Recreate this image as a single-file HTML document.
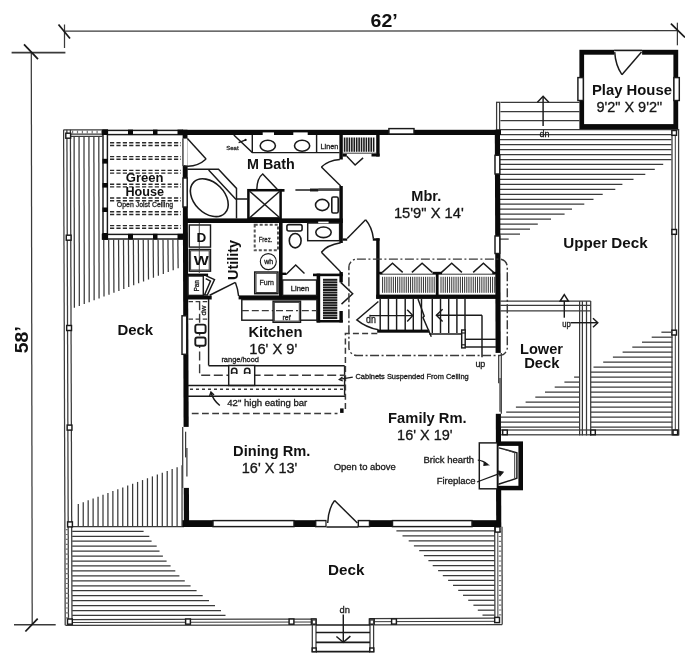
<!DOCTYPE html>
<html><head><meta charset="utf-8"><title>Floor Plan</title>
<style>
html,body{margin:0;padding:0;background:#fff;}
body{width:685px;height:664px;overflow:hidden;}
svg{display:block;will-change:transform;filter:grayscale(1);font-family:"Liberation Sans",Arial,Helvetica,sans-serif;}
</style></head><body>
<svg width="685" height="664" viewBox="0 0 685 664">
<rect x="0" y="0" width="685" height="664" fill="#ffffff"/>
<line x1="64.50" y1="31.20" x2="677.50" y2="30.70" stroke="#3a3a3a" stroke-width="1.25" />
<line x1="64.50" y1="24.50" x2="64.50" y2="48.00" stroke="#3a3a3a" stroke-width="1.25" />
<line x1="58.50" y1="24.50" x2="70.00" y2="38.50" stroke="#1a1a1a" stroke-width="1.74" />
<line x1="677.40" y1="22.70" x2="677.40" y2="45.30" stroke="#3a3a3a" stroke-width="1.25" />
<line x1="670.90" y1="23.70" x2="685.00" y2="37.40" stroke="#1a1a1a" stroke-width="1.74" />
<line x1="31.30" y1="52.60" x2="32.20" y2="624.80" stroke="#3a3a3a" stroke-width="1.25" />
<line x1="11.60" y1="52.60" x2="65.40" y2="52.60" stroke="#3a3a3a" stroke-width="1.75" />
<line x1="24.00" y1="44.40" x2="38.00" y2="59.20" stroke="#1a1a1a" stroke-width="1.74" />
<line x1="14.00" y1="624.80" x2="55.70" y2="624.80" stroke="#3a3a3a" stroke-width="1.50" />
<line x1="25.40" y1="631.50" x2="37.70" y2="618.70" stroke="#1a1a1a" stroke-width="1.74" />
<text x="370.60" y="27.40" font-size="18.7" font-weight="bold" textLength="27.2" lengthAdjust="spacingAndGlyphs" fill="#111" >62’</text>
<text x="28.30" y="353.20" font-size="19" font-weight="bold" textLength="27.0" lengthAdjust="spacingAndGlyphs" transform="rotate(-90 28.3 353.2)" fill="#111" >58’</text>
<line x1="63.60" y1="129.80" x2="65.21" y2="625.20" stroke="#3a3a3a" stroke-width="1.25" />
<line x1="66.90" y1="129.80" x2="68.51" y2="625.20" stroke="#3a3a3a" stroke-width="1.25" />
<line x1="70.40" y1="129.80" x2="72.01" y2="625.20" stroke="#3a3a3a" stroke-width="1.25" />
<line x1="63.60" y1="129.80" x2="102.50" y2="129.80" stroke="#3a3a3a" stroke-width="1.25" />
<line x1="70.40" y1="134.00" x2="102.50" y2="134.00" stroke="#3a3a3a" stroke-width="1.25" />
<line x1="70.40" y1="136.30" x2="102.50" y2="136.30" stroke="#3a3a3a" stroke-width="1.25" />
<line x1="72.00" y1="132.00" x2="102.50" y2="132.00" stroke="#777" stroke-width="3.25" stroke-dasharray="1.2 3.7"/>
<line x1="74.10" y1="136.30" x2="74.40" y2="307.80" stroke="#3a3a3a" stroke-width="1.25" />
<line x1="79.04" y1="136.30" x2="79.34" y2="305.92" stroke="#3a3a3a" stroke-width="1.25" />
<line x1="83.98" y1="136.30" x2="84.28" y2="304.04" stroke="#3a3a3a" stroke-width="1.25" />
<line x1="88.92" y1="136.30" x2="89.22" y2="302.16" stroke="#3a3a3a" stroke-width="1.25" />
<line x1="93.86" y1="136.30" x2="94.16" y2="300.28" stroke="#3a3a3a" stroke-width="1.25" />
<line x1="98.80" y1="136.30" x2="99.10" y2="298.40" stroke="#3a3a3a" stroke-width="1.25" />
<line x1="103.74" y1="239.70" x2="104.04" y2="296.52" stroke="#3a3a3a" stroke-width="1.25" />
<line x1="108.68" y1="239.70" x2="108.98" y2="294.64" stroke="#3a3a3a" stroke-width="1.25" />
<line x1="113.62" y1="239.70" x2="113.92" y2="292.76" stroke="#3a3a3a" stroke-width="1.25" />
<line x1="118.56" y1="239.70" x2="118.86" y2="290.88" stroke="#3a3a3a" stroke-width="1.25" />
<line x1="123.50" y1="239.70" x2="123.80" y2="289.00" stroke="#3a3a3a" stroke-width="1.25" />
<line x1="128.44" y1="239.70" x2="128.74" y2="287.12" stroke="#3a3a3a" stroke-width="1.25" />
<line x1="133.38" y1="239.70" x2="133.68" y2="285.24" stroke="#3a3a3a" stroke-width="1.25" />
<line x1="138.32" y1="239.70" x2="138.62" y2="283.36" stroke="#3a3a3a" stroke-width="1.25" />
<line x1="143.26" y1="239.70" x2="143.56" y2="281.48" stroke="#3a3a3a" stroke-width="1.25" />
<line x1="148.20" y1="239.70" x2="148.50" y2="279.60" stroke="#3a3a3a" stroke-width="1.25" />
<line x1="153.14" y1="239.70" x2="153.44" y2="277.72" stroke="#3a3a3a" stroke-width="1.25" />
<line x1="158.08" y1="239.70" x2="158.38" y2="275.84" stroke="#3a3a3a" stroke-width="1.25" />
<line x1="163.02" y1="239.70" x2="163.32" y2="273.96" stroke="#3a3a3a" stroke-width="1.25" />
<line x1="167.96" y1="239.70" x2="168.26" y2="272.08" stroke="#3a3a3a" stroke-width="1.25" />
<line x1="172.90" y1="239.70" x2="173.20" y2="270.20" stroke="#3a3a3a" stroke-width="1.25" />
<line x1="177.84" y1="239.70" x2="178.14" y2="268.32" stroke="#3a3a3a" stroke-width="1.25" />
<line x1="78.30" y1="504.00" x2="78.30" y2="526.60" stroke="#3a3a3a" stroke-width="1.25" />
<line x1="83.24" y1="502.16" x2="83.24" y2="526.60" stroke="#3a3a3a" stroke-width="1.25" />
<line x1="88.18" y1="500.32" x2="88.18" y2="526.60" stroke="#3a3a3a" stroke-width="1.25" />
<line x1="93.12" y1="498.48" x2="93.12" y2="526.60" stroke="#3a3a3a" stroke-width="1.25" />
<line x1="98.06" y1="496.64" x2="98.06" y2="526.60" stroke="#3a3a3a" stroke-width="1.25" />
<line x1="103.00" y1="494.80" x2="103.00" y2="526.60" stroke="#3a3a3a" stroke-width="1.25" />
<line x1="107.94" y1="492.96" x2="107.94" y2="526.60" stroke="#3a3a3a" stroke-width="1.25" />
<line x1="112.88" y1="491.12" x2="112.88" y2="526.60" stroke="#3a3a3a" stroke-width="1.25" />
<line x1="117.82" y1="489.28" x2="117.82" y2="526.60" stroke="#3a3a3a" stroke-width="1.25" />
<line x1="122.76" y1="487.44" x2="122.76" y2="526.60" stroke="#3a3a3a" stroke-width="1.25" />
<line x1="127.70" y1="485.60" x2="127.70" y2="526.60" stroke="#3a3a3a" stroke-width="1.25" />
<line x1="132.64" y1="483.76" x2="132.64" y2="526.60" stroke="#3a3a3a" stroke-width="1.25" />
<line x1="137.58" y1="481.92" x2="137.58" y2="526.60" stroke="#3a3a3a" stroke-width="1.25" />
<line x1="142.52" y1="480.08" x2="142.52" y2="526.60" stroke="#3a3a3a" stroke-width="1.25" />
<line x1="147.46" y1="478.24" x2="147.46" y2="526.60" stroke="#3a3a3a" stroke-width="1.25" />
<line x1="152.40" y1="476.40" x2="152.40" y2="526.60" stroke="#3a3a3a" stroke-width="1.25" />
<line x1="157.34" y1="474.56" x2="157.34" y2="526.60" stroke="#3a3a3a" stroke-width="1.25" />
<line x1="162.28" y1="472.72" x2="162.28" y2="526.60" stroke="#3a3a3a" stroke-width="1.25" />
<line x1="167.22" y1="470.88" x2="167.22" y2="526.60" stroke="#3a3a3a" stroke-width="1.25" />
<line x1="172.16" y1="469.04" x2="172.16" y2="526.60" stroke="#3a3a3a" stroke-width="1.25" />
<line x1="177.10" y1="467.20" x2="177.10" y2="526.60" stroke="#3a3a3a" stroke-width="1.25" />
<line x1="182.04" y1="465.36" x2="182.04" y2="526.60" stroke="#3a3a3a" stroke-width="1.25" />
<line x1="71.50" y1="526.70" x2="184.00" y2="526.70" stroke="#3a3a3a" stroke-width="1.25" />
<rect x="65.80" y="133.20" width="4.80" height="5.00" fill="#fff" stroke="#1a1a1a" stroke-width="1.45" />
<rect x="66.27" y="235.20" width="4.80" height="5.00" fill="#fff" stroke="#1a1a1a" stroke-width="1.45" />
<rect x="66.69" y="325.50" width="4.80" height="5.00" fill="#fff" stroke="#1a1a1a" stroke-width="1.45" />
<rect x="67.15" y="425.10" width="4.80" height="5.00" fill="#fff" stroke="#1a1a1a" stroke-width="1.45" />
<rect x="67.60" y="521.90" width="4.80" height="5.00" fill="#fff" stroke="#1a1a1a" stroke-width="1.45" />
<text x="117.40" y="335.00" font-size="14.3" font-weight="bold" textLength="35.7" lengthAdjust="spacingAndGlyphs" fill="#111" >Deck</text>
<line x1="65.40" y1="625.40" x2="316.00" y2="624.90" stroke="#3a3a3a" stroke-width="1.25" />
<line x1="71.80" y1="619.60" x2="316.00" y2="619.10" stroke="#3a3a3a" stroke-width="1.25" />
<line x1="71.80" y1="622.50" x2="316.00" y2="622.00" stroke="#3a3a3a" stroke-width="1.00" />
<line x1="67.10" y1="529.00" x2="67.10" y2="619.00" stroke="#777" stroke-width="3.00" stroke-dasharray="1.2 3.7"/>
<line x1="72.20" y1="531.30" x2="143.60" y2="531.30" stroke="#3a3a3a" stroke-width="1.25" />
<line x1="72.20" y1="536.25" x2="149.30" y2="536.25" stroke="#3a3a3a" stroke-width="1.25" />
<line x1="72.20" y1="541.20" x2="151.60" y2="541.20" stroke="#3a3a3a" stroke-width="1.25" />
<line x1="72.20" y1="546.15" x2="156.70" y2="546.15" stroke="#3a3a3a" stroke-width="1.25" />
<line x1="72.20" y1="551.10" x2="159.50" y2="551.10" stroke="#3a3a3a" stroke-width="1.25" />
<line x1="72.20" y1="556.05" x2="162.90" y2="556.05" stroke="#3a3a3a" stroke-width="1.25" />
<line x1="72.20" y1="561.00" x2="166.60" y2="561.00" stroke="#3a3a3a" stroke-width="1.25" />
<line x1="72.20" y1="565.95" x2="170.60" y2="565.95" stroke="#3a3a3a" stroke-width="1.25" />
<line x1="72.20" y1="570.90" x2="175.30" y2="570.90" stroke="#3a3a3a" stroke-width="1.25" />
<line x1="72.20" y1="575.85" x2="179.40" y2="575.85" stroke="#3a3a3a" stroke-width="1.25" />
<line x1="72.20" y1="580.80" x2="184.80" y2="580.80" stroke="#3a3a3a" stroke-width="1.25" />
<line x1="72.20" y1="585.75" x2="190.60" y2="585.75" stroke="#3a3a3a" stroke-width="1.25" />
<line x1="72.20" y1="590.70" x2="196.60" y2="590.70" stroke="#3a3a3a" stroke-width="1.25" />
<line x1="72.20" y1="595.65" x2="202.70" y2="595.65" stroke="#3a3a3a" stroke-width="1.25" />
<line x1="72.20" y1="600.60" x2="209.00" y2="600.60" stroke="#3a3a3a" stroke-width="1.25" />
<line x1="72.20" y1="605.55" x2="215.00" y2="605.55" stroke="#3a3a3a" stroke-width="1.25" />
<line x1="72.20" y1="610.50" x2="221.00" y2="610.50" stroke="#3a3a3a" stroke-width="1.25" />
<line x1="72.20" y1="615.45" x2="225.50" y2="615.45" stroke="#3a3a3a" stroke-width="1.25" />
<rect x="67.50" y="619.00" width="4.80" height="5.20" fill="#fff" stroke="#1a1a1a" stroke-width="1.45" />
<rect x="185.60" y="619.00" width="4.80" height="5.20" fill="#fff" stroke="#1a1a1a" stroke-width="1.45" />
<rect x="289.10" y="619.00" width="4.80" height="5.20" fill="#fff" stroke="#1a1a1a" stroke-width="1.45" />
<rect x="311.40" y="619.00" width="4.80" height="5.20" fill="#fff" stroke="#1a1a1a" stroke-width="1.45" />
<line x1="494.70" y1="526.70" x2="494.90" y2="618.20" stroke="#3a3a3a" stroke-width="1.25" />
<line x1="497.80" y1="526.70" x2="497.90" y2="621.30" stroke="#3a3a3a" stroke-width="1.00" />
<line x1="502.00" y1="526.70" x2="502.20" y2="624.50" stroke="#3a3a3a" stroke-width="1.25" />
<line x1="500.10" y1="531.00" x2="500.20" y2="616.00" stroke="#777" stroke-width="2.75" stroke-dasharray="1.2 3.7"/>
<line x1="369.50" y1="624.80" x2="502.20" y2="624.50" stroke="#3a3a3a" stroke-width="1.25" />
<line x1="369.50" y1="618.70" x2="494.90" y2="618.20" stroke="#3a3a3a" stroke-width="1.25" />
<line x1="369.50" y1="621.70" x2="497.90" y2="621.30" stroke="#3a3a3a" stroke-width="1.00" />
<line x1="396.40" y1="530.90" x2="494.70" y2="530.90" stroke="#3a3a3a" stroke-width="1.25" />
<line x1="402.50" y1="535.86" x2="494.70" y2="535.86" stroke="#3a3a3a" stroke-width="1.25" />
<line x1="408.70" y1="540.81" x2="494.70" y2="540.81" stroke="#3a3a3a" stroke-width="1.25" />
<line x1="413.90" y1="545.76" x2="494.70" y2="545.76" stroke="#3a3a3a" stroke-width="1.25" />
<line x1="419.20" y1="550.72" x2="494.70" y2="550.72" stroke="#3a3a3a" stroke-width="1.25" />
<line x1="423.90" y1="555.67" x2="494.70" y2="555.67" stroke="#3a3a3a" stroke-width="1.25" />
<line x1="428.40" y1="560.63" x2="494.70" y2="560.63" stroke="#3a3a3a" stroke-width="1.25" />
<line x1="432.70" y1="565.59" x2="494.70" y2="565.59" stroke="#3a3a3a" stroke-width="1.25" />
<line x1="438.10" y1="570.54" x2="494.70" y2="570.54" stroke="#3a3a3a" stroke-width="1.25" />
<line x1="442.80" y1="575.50" x2="494.70" y2="575.50" stroke="#3a3a3a" stroke-width="1.25" />
<line x1="448.10" y1="580.45" x2="494.70" y2="580.45" stroke="#3a3a3a" stroke-width="1.25" />
<line x1="453.00" y1="585.40" x2="494.70" y2="585.40" stroke="#3a3a3a" stroke-width="1.25" />
<line x1="458.20" y1="590.36" x2="494.70" y2="590.36" stroke="#3a3a3a" stroke-width="1.25" />
<line x1="463.00" y1="595.31" x2="494.70" y2="595.31" stroke="#3a3a3a" stroke-width="1.25" />
<line x1="468.20" y1="600.27" x2="494.70" y2="600.27" stroke="#3a3a3a" stroke-width="1.25" />
<line x1="473.40" y1="605.23" x2="494.70" y2="605.23" stroke="#3a3a3a" stroke-width="1.25" />
<line x1="477.80" y1="610.18" x2="494.70" y2="610.18" stroke="#3a3a3a" stroke-width="1.25" />
<line x1="482.50" y1="615.13" x2="494.70" y2="615.13" stroke="#3a3a3a" stroke-width="1.25" />
<rect x="369.40" y="619.00" width="4.80" height="5.20" fill="#fff" stroke="#1a1a1a" stroke-width="1.45" />
<rect x="391.60" y="618.90" width="4.80" height="5.20" fill="#fff" stroke="#1a1a1a" stroke-width="1.45" />
<rect x="494.70" y="617.40" width="4.80" height="5.20" fill="#fff" stroke="#1a1a1a" stroke-width="1.45" />
<rect x="495.20" y="526.90" width="4.80" height="5.20" fill="#fff" stroke="#1a1a1a" stroke-width="1.45" />
<rect x="312.30" y="620.00" width="3.70" height="31.60" fill="none" stroke="#3a3a3a" stroke-width="1.25" />
<rect x="370.00" y="620.00" width="3.60" height="31.60" fill="none" stroke="#3a3a3a" stroke-width="1.25" />
<line x1="316.00" y1="625.00" x2="370.00" y2="625.00" stroke="#1a1a1a" stroke-width="1.74" />
<line x1="316.00" y1="632.50" x2="370.00" y2="632.50" stroke="#1a1a1a" stroke-width="1.74" />
<line x1="316.00" y1="642.30" x2="370.00" y2="642.30" stroke="#1a1a1a" stroke-width="1.74" />
<line x1="316.00" y1="651.60" x2="370.00" y2="651.60" stroke="#1a1a1a" stroke-width="1.74" />
<rect x="312.20" y="648.00" width="4.00" height="3.80" fill="#fff" stroke="#1a1a1a" stroke-width="1.45" />
<rect x="369.80" y="648.00" width="4.00" height="3.80" fill="#fff" stroke="#1a1a1a" stroke-width="1.45" />
<line x1="343.30" y1="614.50" x2="343.30" y2="642.30" stroke="#1a1a1a" stroke-width="1.45" />
<path d="M336.40 636.50 L343.30 642.30 L350.40 636.10" fill="none" stroke="#1a1a1a" stroke-width="1.45" />
<text x="344.70" y="613.20" font-size="9.5" stroke="#222" stroke-width="0.3" text-anchor="middle" textLength="10.4" lengthAdjust="spacingAndGlyphs" fill="#111" >dn</text>
<text x="346.20" y="575.00" font-size="14.5" font-weight="bold" text-anchor="middle" textLength="36.4" lengthAdjust="spacingAndGlyphs" fill="#111" >Deck</text>
<line x1="500.00" y1="129.60" x2="678.00" y2="129.60" stroke="#3a3a3a" stroke-width="1.25" />
<line x1="500.00" y1="134.60" x2="671.50" y2="134.60" stroke="#3a3a3a" stroke-width="1.25" />
<line x1="500.00" y1="139.60" x2="671.50" y2="139.60" stroke="#3a3a3a" stroke-width="1.25" />
<line x1="500.00" y1="144.60" x2="671.50" y2="144.60" stroke="#3a3a3a" stroke-width="1.25" />
<line x1="500.00" y1="149.60" x2="671.50" y2="149.60" stroke="#3a3a3a" stroke-width="1.25" />
<line x1="500.00" y1="154.60" x2="671.50" y2="154.60" stroke="#3a3a3a" stroke-width="1.25" />
<line x1="500.00" y1="159.60" x2="671.50" y2="159.60" stroke="#3a3a3a" stroke-width="1.25" />
<line x1="500.00" y1="164.40" x2="663.20" y2="164.40" stroke="#3a3a3a" stroke-width="1.25" />
<line x1="500.00" y1="169.38" x2="654.80" y2="169.38" stroke="#3a3a3a" stroke-width="1.25" />
<line x1="500.00" y1="174.36" x2="645.30" y2="174.36" stroke="#3a3a3a" stroke-width="1.25" />
<line x1="500.00" y1="179.34" x2="633.50" y2="179.34" stroke="#3a3a3a" stroke-width="1.25" />
<line x1="500.00" y1="184.32" x2="622.40" y2="184.32" stroke="#3a3a3a" stroke-width="1.25" />
<line x1="500.00" y1="189.30" x2="615.30" y2="189.30" stroke="#3a3a3a" stroke-width="1.25" />
<line x1="500.00" y1="194.28" x2="602.70" y2="194.28" stroke="#3a3a3a" stroke-width="1.25" />
<line x1="500.00" y1="199.26" x2="593.50" y2="199.26" stroke="#3a3a3a" stroke-width="1.25" />
<line x1="500.00" y1="204.24" x2="584.30" y2="204.24" stroke="#3a3a3a" stroke-width="1.25" />
<line x1="500.00" y1="209.22" x2="572.00" y2="209.22" stroke="#3a3a3a" stroke-width="1.25" />
<line x1="500.00" y1="214.20" x2="564.60" y2="214.20" stroke="#3a3a3a" stroke-width="1.25" />
<line x1="500.00" y1="219.18" x2="551.00" y2="219.18" stroke="#3a3a3a" stroke-width="1.25" />
<line x1="500.00" y1="224.16" x2="537.80" y2="224.16" stroke="#3a3a3a" stroke-width="1.25" />
<line x1="500.00" y1="229.14" x2="530.00" y2="229.14" stroke="#3a3a3a" stroke-width="1.25" />
<line x1="500.00" y1="234.12" x2="520.00" y2="234.12" stroke="#3a3a3a" stroke-width="1.25" />
<line x1="500.00" y1="239.10" x2="508.70" y2="239.10" stroke="#3a3a3a" stroke-width="1.25" />
<rect x="672.00" y="129.60" width="6.60" height="305.20" fill="none" stroke="#3a3a3a" stroke-width="1.25" />
<line x1="675.30" y1="129.60" x2="675.30" y2="434.80" stroke="#3a3a3a" stroke-width="1.00" />
<rect x="671.90" y="130.50" width="4.60" height="4.80" fill="#fff" stroke="#1a1a1a" stroke-width="1.45" />
<rect x="671.90" y="229.50" width="4.60" height="4.80" fill="#fff" stroke="#1a1a1a" stroke-width="1.45" />
<rect x="671.90" y="330.20" width="4.60" height="4.80" fill="#fff" stroke="#1a1a1a" stroke-width="1.45" />
<text x="605.40" y="248.20" font-size="14.5" font-weight="bold" text-anchor="middle" textLength="84.4" lengthAdjust="spacingAndGlyphs" fill="#111" >Upper Deck</text>
<rect x="496.60" y="102.30" width="3.00" height="27.70" fill="none" stroke="#3a3a3a" stroke-width="1.25" />
<line x1="500.40" y1="102.30" x2="579.40" y2="102.30" stroke="#3a3a3a" stroke-width="1.25" />
<line x1="500.40" y1="111.50" x2="579.40" y2="111.50" stroke="#3a3a3a" stroke-width="1.25" />
<line x1="500.40" y1="120.70" x2="579.40" y2="120.70" stroke="#3a3a3a" stroke-width="1.25" />
<line x1="543.10" y1="97.00" x2="543.10" y2="126.00" stroke="#1a1a1a" stroke-width="1.45" />
<path d="M537.40 102.30 L543.10 96.20 L548.80 102.30" fill="none" stroke="#1a1a1a" stroke-width="1.45" />
<text x="544.60" y="137.20" font-size="9.5" stroke="#222" stroke-width="0.3" text-anchor="middle" textLength="10.0" lengthAdjust="spacingAndGlyphs" fill="#111" >dn</text>
<rect x="579.40" y="49.80" width="98.80" height="79.30" fill="#0a0a0a" stroke="none" />
<rect x="584.10" y="54.70" width="89.30" height="69.40" fill="#fff" stroke="none" />
<rect x="614.10" y="50.20" width="28.00" height="4.80" fill="#fff" stroke="none" />
<line x1="614.10" y1="50.50" x2="642.10" y2="50.50" stroke="#1a1a1a" stroke-width="1.45" />
<line x1="641.50" y1="52.10" x2="621.90" y2="74.70" stroke="#1a1a1a" stroke-width="1.45" />
<path d="M621.9 74.7 Q615.5 65 614.7 52.1" fill="none" stroke="#1a1a1a" stroke-width="1.45" />
<rect x="577.90" y="77.60" width="5.40" height="22.90" fill="#fff" stroke="#1a1a1a" stroke-width="1.45" />
<rect x="673.90" y="77.60" width="5.40" height="22.90" fill="#fff" stroke="#1a1a1a" stroke-width="1.45" />
<text x="591.90" y="95.20" font-size="14.5" font-weight="bold" textLength="80.0" lengthAdjust="spacingAndGlyphs" fill="#111" >Play House</text>
<text x="596.40" y="111.90" font-size="14" stroke="#222" stroke-width="0.3" textLength="65.7" lengthAdjust="spacingAndGlyphs" fill="#111" >9'2" X 9'2"</text>
<line x1="661.40" y1="332.20" x2="672.50" y2="332.20" stroke="#3a3a3a" stroke-width="1.25" />
<line x1="651.70" y1="337.19" x2="672.50" y2="337.19" stroke="#3a3a3a" stroke-width="1.25" />
<line x1="642.00" y1="342.18" x2="672.50" y2="342.18" stroke="#3a3a3a" stroke-width="1.25" />
<line x1="632.30" y1="347.17" x2="672.50" y2="347.17" stroke="#3a3a3a" stroke-width="1.25" />
<line x1="622.60" y1="352.16" x2="672.50" y2="352.16" stroke="#3a3a3a" stroke-width="1.25" />
<line x1="612.90" y1="357.15" x2="672.50" y2="357.15" stroke="#3a3a3a" stroke-width="1.25" />
<line x1="603.20" y1="362.14" x2="672.50" y2="362.14" stroke="#3a3a3a" stroke-width="1.25" />
<line x1="593.50" y1="367.13" x2="672.50" y2="367.13" stroke="#3a3a3a" stroke-width="1.25" />
<line x1="590.70" y1="372.12" x2="672.50" y2="372.12" stroke="#3a3a3a" stroke-width="1.25" />
<line x1="574.10" y1="377.11" x2="579.60" y2="377.11" stroke="#3a3a3a" stroke-width="1.25" />
<line x1="590.70" y1="377.11" x2="672.50" y2="377.11" stroke="#3a3a3a" stroke-width="1.25" />
<line x1="564.40" y1="382.10" x2="579.60" y2="382.10" stroke="#3a3a3a" stroke-width="1.25" />
<line x1="590.70" y1="382.10" x2="672.50" y2="382.10" stroke="#3a3a3a" stroke-width="1.25" />
<line x1="554.70" y1="387.09" x2="579.60" y2="387.09" stroke="#3a3a3a" stroke-width="1.25" />
<line x1="590.70" y1="387.09" x2="672.50" y2="387.09" stroke="#3a3a3a" stroke-width="1.25" />
<line x1="545.00" y1="392.08" x2="579.60" y2="392.08" stroke="#3a3a3a" stroke-width="1.25" />
<line x1="590.70" y1="392.08" x2="672.50" y2="392.08" stroke="#3a3a3a" stroke-width="1.25" />
<line x1="535.30" y1="397.07" x2="579.60" y2="397.07" stroke="#3a3a3a" stroke-width="1.25" />
<line x1="590.70" y1="397.07" x2="672.50" y2="397.07" stroke="#3a3a3a" stroke-width="1.25" />
<line x1="525.60" y1="402.06" x2="579.60" y2="402.06" stroke="#3a3a3a" stroke-width="1.25" />
<line x1="590.70" y1="402.06" x2="672.50" y2="402.06" stroke="#3a3a3a" stroke-width="1.25" />
<line x1="515.90" y1="407.05" x2="579.60" y2="407.05" stroke="#3a3a3a" stroke-width="1.25" />
<line x1="590.70" y1="407.05" x2="672.50" y2="407.05" stroke="#3a3a3a" stroke-width="1.25" />
<line x1="506.20" y1="412.04" x2="579.60" y2="412.04" stroke="#3a3a3a" stroke-width="1.25" />
<line x1="590.70" y1="412.04" x2="672.50" y2="412.04" stroke="#3a3a3a" stroke-width="1.25" />
<line x1="500.50" y1="417.03" x2="579.60" y2="417.03" stroke="#3a3a3a" stroke-width="1.25" />
<line x1="590.70" y1="417.03" x2="672.50" y2="417.03" stroke="#3a3a3a" stroke-width="1.25" />
<line x1="500.50" y1="422.02" x2="579.60" y2="422.02" stroke="#3a3a3a" stroke-width="1.25" />
<line x1="590.70" y1="422.02" x2="672.50" y2="422.02" stroke="#3a3a3a" stroke-width="1.25" />
<line x1="500.50" y1="427.01" x2="579.60" y2="427.01" stroke="#3a3a3a" stroke-width="1.25" />
<line x1="590.70" y1="427.01" x2="672.50" y2="427.01" stroke="#3a3a3a" stroke-width="1.25" />
<line x1="500.50" y1="301.10" x2="590.70" y2="301.10" stroke="#3a3a3a" stroke-width="1.25" />
<line x1="500.50" y1="305.30" x2="590.70" y2="305.30" stroke="#3a3a3a" stroke-width="1.25" />
<line x1="500.50" y1="310.80" x2="590.70" y2="310.80" stroke="#3a3a3a" stroke-width="1.25" />
<line x1="579.60" y1="301.10" x2="579.60" y2="435.40" stroke="#3a3a3a" stroke-width="1.25" />
<line x1="582.40" y1="301.10" x2="582.40" y2="435.40" stroke="#3a3a3a" stroke-width="1.25" />
<line x1="586.50" y1="301.10" x2="586.50" y2="435.40" stroke="#3a3a3a" stroke-width="1.25" />
<line x1="590.70" y1="301.10" x2="590.70" y2="435.40" stroke="#3a3a3a" stroke-width="1.25" />
<rect x="500.50" y="430.00" width="178.10" height="4.80" fill="none" stroke="#3a3a3a" stroke-width="1.25" />
<rect x="502.70" y="430.10" width="4.60" height="4.60" fill="#fff" stroke="#1a1a1a" stroke-width="1.45" />
<rect x="590.70" y="430.10" width="4.60" height="4.60" fill="#fff" stroke="#1a1a1a" stroke-width="1.45" />
<rect x="673.00" y="430.10" width="4.60" height="4.60" fill="#fff" stroke="#1a1a1a" stroke-width="1.45" />
<line x1="564.30" y1="317.70" x2="564.30" y2="296.10" stroke="#1a1a1a" stroke-width="1.45" />
<path d="M560.20 301.00 L564.30 294.60 L568.40 301.00 Z" fill="#fff" stroke="#1a1a1a" stroke-width="1.45" />
<line x1="570.50" y1="322.70" x2="597.60" y2="322.70" stroke="#1a1a1a" stroke-width="1.45" />
<path d="M593.00 318.20 L597.80 322.70 L593.00 327.20" fill="none" stroke="#1a1a1a" stroke-width="1.45" />
<text x="566.40" y="327.40" font-size="8.5" stroke="#222" stroke-width="0.3" text-anchor="middle" textLength="8.5" lengthAdjust="spacingAndGlyphs" fill="#111" >up</text>
<text x="541.50" y="354.40" font-size="14.5" font-weight="bold" text-anchor="middle" textLength="43.0" lengthAdjust="spacingAndGlyphs" fill="#111" >Lower</text>
<text x="541.80" y="368.20" font-size="14.5" font-weight="bold" text-anchor="middle" textLength="35.3" lengthAdjust="spacingAndGlyphs" fill="#111" >Deck</text>
<rect x="182.40" y="129.80" width="318.60" height="5.20" fill="#0a0a0a" stroke="none" />
<path d="M182.60 129.80 L187.50 129.80 L189.10 526.50 L183.90 526.50 Z" fill="#0a0a0a" stroke="#0a0a0a" stroke-width="0.00" />
<rect x="182.40" y="520.20" width="318.60" height="6.80" fill="#0a0a0a" stroke="none" />
<path d="M494.80 129.80 L500.00 129.80 L501.30 527.00 L496.20 527.00 Z" fill="#0a0a0a" stroke="#0a0a0a" stroke-width="0.00" />
<rect x="182.90" y="138.60" width="4.70" height="27.40" fill="#fff" stroke="none" />
<line x1="183.00" y1="138.60" x2="183.00" y2="166.00" stroke="#3a3a3a" stroke-width="1.25" />
<rect x="183.00" y="178.00" width="4.20" height="29.00" fill="#fff" stroke="#1a1a1a" stroke-width="1.45" />
<rect x="182.00" y="315.80" width="4.70" height="38.50" fill="#fff" stroke="#1a1a1a" stroke-width="1.45" />
<rect x="182.20" y="426.90" width="7.60" height="61.00" fill="#fff" stroke="none" />
<line x1="182.70" y1="426.90" x2="182.70" y2="487.90" stroke="#3a3a3a" stroke-width="1.25" />
<line x1="185.60" y1="431.70" x2="185.60" y2="457.40" stroke="#3a3a3a" stroke-width="1.25" />
<line x1="186.90" y1="447.90" x2="186.90" y2="476.40" stroke="#3a3a3a" stroke-width="1.25" />
<rect x="388.90" y="128.60" width="25.10" height="5.40" fill="#fff" stroke="#1a1a1a" stroke-width="1.45" />
<rect x="262.70" y="132.40" width="11.30" height="2.80" fill="#fff" stroke="none" />
<rect x="293.30" y="132.40" width="14.40" height="2.80" fill="#fff" stroke="none" />
<rect x="213.00" y="520.60" width="81.00" height="6.00" fill="#fff" stroke="#1a1a1a" stroke-width="1.45" />
<rect x="315.70" y="520.60" width="10.40" height="6.00" fill="#fff" stroke="#1a1a1a" stroke-width="1.45" />
<rect x="326.60" y="519.00" width="31.70" height="8.50" fill="#fff" stroke="none" />
<line x1="326.60" y1="527.00" x2="358.30" y2="527.00" stroke="#1a1a1a" stroke-width="1.45" />
<rect x="358.30" y="520.60" width="11.20" height="6.00" fill="#fff" stroke="#1a1a1a" stroke-width="1.45" />
<rect x="392.50" y="520.60" width="79.50" height="6.00" fill="#fff" stroke="#1a1a1a" stroke-width="1.45" />
<line x1="357.40" y1="523.00" x2="334.60" y2="500.50" stroke="#1a1a1a" stroke-width="1.45" />
<path d="M334.6 500.5 Q328.5 508 327.7 523" fill="none" stroke="#1a1a1a" stroke-width="1.45" />
<rect x="495.00" y="155.30" width="4.80" height="18.70" fill="#fff" stroke="#1a1a1a" stroke-width="1.45" />
<rect x="495.00" y="236.00" width="4.80" height="17.50" fill="#fff" stroke="#1a1a1a" stroke-width="1.45" />
<rect x="495.00" y="352.90" width="7.00" height="60.90" fill="#fff" stroke="none" />
<line x1="501.30" y1="352.90" x2="501.30" y2="413.80" stroke="#3a3a3a" stroke-width="1.25" />
<line x1="498.70" y1="354.90" x2="498.70" y2="383.30" stroke="#3a3a3a" stroke-width="1.25" />
<line x1="500.00" y1="377.90" x2="500.00" y2="411.80" stroke="#3a3a3a" stroke-width="1.25" />
<rect x="102.50" y="130.40" width="79.90" height="4.20" fill="#fff" stroke="#1a1a1a" stroke-width="1.45" />
<rect x="102.50" y="234.40" width="79.90" height="4.60" fill="#fff" stroke="#1a1a1a" stroke-width="1.45" />
<rect x="103.00" y="130.40" width="4.40" height="108.60" fill="#fff" stroke="#1a1a1a" stroke-width="1.45" />
<rect x="102.50" y="129.60" width="5.50" height="5.40" fill="#0a0a0a" stroke="none" />
<rect x="102.50" y="233.80" width="5.50" height="5.70" fill="#0a0a0a" stroke="none" />
<rect x="128.00" y="129.60" width="5.00" height="5.40" fill="#0a0a0a" stroke="none" />
<rect x="128.00" y="233.80" width="5.00" height="5.70" fill="#0a0a0a" stroke="none" />
<rect x="153.00" y="129.60" width="4.50" height="5.40" fill="#0a0a0a" stroke="none" />
<rect x="153.00" y="233.80" width="4.50" height="5.70" fill="#0a0a0a" stroke="none" />
<rect x="177.50" y="129.60" width="5.50" height="5.40" fill="#0a0a0a" stroke="none" />
<rect x="177.50" y="233.80" width="5.50" height="5.70" fill="#0a0a0a" stroke="none" />
<rect x="102.50" y="129.60" width="5.50" height="5.40" fill="#0a0a0a" stroke="none" />
<rect x="102.50" y="158.80" width="5.50" height="4.80" fill="#0a0a0a" stroke="none" />
<rect x="102.50" y="183.00" width="5.50" height="4.60" fill="#0a0a0a" stroke="none" />
<rect x="102.50" y="207.50" width="5.50" height="4.50" fill="#0a0a0a" stroke="none" />
<rect x="102.50" y="233.00" width="5.50" height="6.50" fill="#0a0a0a" stroke="none" />
<line x1="110.00" y1="142.80" x2="181.00" y2="142.80" stroke="#2a2a2a" stroke-width="1.38" stroke-dasharray="4.2 2.2"/>
<line x1="110.00" y1="145.50" x2="181.00" y2="145.50" stroke="#2a2a2a" stroke-width="1.38" stroke-dasharray="4.2 2.2"/>
<line x1="110.00" y1="156.60" x2="181.00" y2="156.60" stroke="#2a2a2a" stroke-width="1.38" stroke-dasharray="4.2 2.2"/>
<line x1="110.00" y1="159.30" x2="181.00" y2="159.30" stroke="#2a2a2a" stroke-width="1.38" stroke-dasharray="4.2 2.2"/>
<line x1="110.00" y1="170.40" x2="181.00" y2="170.40" stroke="#2a2a2a" stroke-width="1.38" stroke-dasharray="4.2 2.2"/>
<line x1="110.00" y1="173.10" x2="181.00" y2="173.10" stroke="#2a2a2a" stroke-width="1.38" stroke-dasharray="4.2 2.2"/>
<line x1="110.00" y1="184.20" x2="181.00" y2="184.20" stroke="#2a2a2a" stroke-width="1.38" stroke-dasharray="4.2 2.2"/>
<line x1="110.00" y1="186.90" x2="181.00" y2="186.90" stroke="#2a2a2a" stroke-width="1.38" stroke-dasharray="4.2 2.2"/>
<line x1="110.00" y1="198.00" x2="181.00" y2="198.00" stroke="#2a2a2a" stroke-width="1.38" stroke-dasharray="4.2 2.2"/>
<line x1="110.00" y1="200.70" x2="181.00" y2="200.70" stroke="#2a2a2a" stroke-width="1.38" stroke-dasharray="4.2 2.2"/>
<line x1="110.00" y1="211.80" x2="181.00" y2="211.80" stroke="#2a2a2a" stroke-width="1.38" stroke-dasharray="4.2 2.2"/>
<line x1="110.00" y1="214.50" x2="181.00" y2="214.50" stroke="#2a2a2a" stroke-width="1.38" stroke-dasharray="4.2 2.2"/>
<line x1="110.00" y1="225.60" x2="181.00" y2="225.60" stroke="#2a2a2a" stroke-width="1.38" stroke-dasharray="4.2 2.2"/>
<line x1="110.00" y1="228.30" x2="181.00" y2="228.30" stroke="#2a2a2a" stroke-width="1.38" stroke-dasharray="4.2 2.2"/>
<text x="125.80" y="181.70" font-size="13.6" font-weight="bold" textLength="37.8" lengthAdjust="spacingAndGlyphs" fill="#111" >Green</text>
<text x="125.50" y="195.70" font-size="13.6" font-weight="bold" textLength="38.6" lengthAdjust="spacingAndGlyphs" fill="#111" >House</text>
<text x="116.80" y="207.30" font-size="6.5" stroke="#222" stroke-width="0.3" textLength="56.3" lengthAdjust="spacingAndGlyphs" fill="#333" >Open Joist Ceiling</text>
<rect x="187.00" y="218.40" width="155.80" height="4.60" fill="#0a0a0a" stroke="none" />
<rect x="339.40" y="135.00" width="3.40" height="24.50" fill="#0a0a0a" stroke="none" />
<rect x="339.40" y="186.00" width="3.40" height="57.00" fill="#0a0a0a" stroke="none" />
<rect x="339.40" y="272.00" width="3.40" height="10.40" fill="#0a0a0a" stroke="none" />
<rect x="279.00" y="223.00" width="3.60" height="73.00" fill="#0a0a0a" stroke="none" />
<rect x="187.00" y="295.60" width="24.70" height="3.90" fill="#0a0a0a" stroke="none" />
<rect x="238.60" y="295.40" width="81.40" height="4.00" fill="#0a0a0a" stroke="none" />
<rect x="316.60" y="273.60" width="3.60" height="48.90" fill="#0a0a0a" stroke="none" />
<rect x="313.00" y="273.60" width="29.80" height="2.60" fill="#0a0a0a" stroke="none" />
<rect x="187.60" y="273.60" width="20.50" height="2.40" fill="#0a0a0a" stroke="none" />
<rect x="376.20" y="238.30" width="3.40" height="60.30" fill="#0a0a0a" stroke="none" />
<rect x="372.80" y="238.30" width="6.80" height="2.40" fill="#0a0a0a" stroke="none" />
<rect x="376.20" y="294.60" width="122.80" height="4.30" fill="#0a0a0a" stroke="none" />
<line x1="379.60" y1="274.20" x2="496.00" y2="274.20" stroke="#3a3a3a" stroke-width="1.00" />
<rect x="379.00" y="271.80" width="3.50" height="2.40" fill="#0a0a0a" stroke="none" />
<rect x="432.50" y="271.80" width="9.50" height="2.40" fill="#0a0a0a" stroke="none" />
<rect x="492.30" y="271.80" width="3.70" height="2.40" fill="#0a0a0a" stroke="none" />
<rect x="342.60" y="238.40" width="4.60" height="2.30" fill="#0a0a0a" stroke="none" />
<rect x="435.80" y="273.20" width="2.80" height="22.80" fill="#0a0a0a" stroke="none" />
<rect x="376.20" y="135.00" width="3.40" height="21.50" fill="#0a0a0a" stroke="none" />
<rect x="371.50" y="153.60" width="8.10" height="2.90" fill="#0a0a0a" stroke="none" />
<rect x="342.60" y="153.80" width="4.20" height="2.80" fill="#0a0a0a" stroke="none" />
<line x1="187.40" y1="138.60" x2="206.10" y2="159.00" stroke="#1a1a1a" stroke-width="1.45" />
<path d="M206.1 159 A27.5 27.5 0 0 1 183.4 165.8" fill="none" stroke="#1a1a1a" stroke-width="1.45" />
<path d="M187.20 169.20 L218.50 169.20 L236.50 188.40 L236.50 218.40" fill="none" stroke="#1a1a1a" stroke-width="1.45" />
<path d="M208.60 170.00 L235.60 198.90 L247.40 198.90" fill="none" stroke="#1a1a1a" stroke-width="1.45" />
<ellipse cx="209.3" cy="197.7" rx="22" ry="15.2" fill="none" stroke="#1a1a1a" stroke-width="1.59" transform="rotate(45 209.3 197.7)"/>
<rect x="248.40" y="190.20" width="32.20" height="28.20" fill="none" stroke="#0a0a0a" stroke-width="2.50" />
<rect x="278.80" y="189.00" width="5.70" height="2.70" fill="#0a0a0a" stroke="none" />
<line x1="249.40" y1="191.00" x2="280.00" y2="218.00" stroke="#1a1a1a" stroke-width="1.45" />
<line x1="280.00" y1="191.00" x2="249.40" y2="218.00" stroke="#1a1a1a" stroke-width="1.45" />
<path d="M256.8 189.2 Q257.2 178 262.7 174 L277.2 189.2" fill="none" stroke="#1a1a1a" stroke-width="1.45" />
<path d="M233.80 135.00 L252.30 152.60 L339.60 152.60" fill="none" stroke="#1a1a1a" stroke-width="1.45" />
<line x1="252.30" y1="135.00" x2="252.30" y2="152.60" stroke="#1a1a1a" stroke-width="1.45" />
<line x1="316.60" y1="135.00" x2="316.60" y2="152.60" stroke="#1a1a1a" stroke-width="1.45" />
<ellipse cx="267.8" cy="145.7" rx="7.6" ry="5.5" fill="none" stroke="#1a1a1a" stroke-width="1.59"/>
<ellipse cx="302.1" cy="145.7" rx="7.6" ry="5.5" fill="none" stroke="#1a1a1a" stroke-width="1.59"/>
<text x="226.20" y="150.40" font-size="5.8" stroke="#222" stroke-width="0.3" textLength="12.4" lengthAdjust="spacingAndGlyphs" fill="#444" >Seat</text>
<line x1="238.60" y1="142.70" x2="245.80" y2="139.80" stroke="#1a1a1a" stroke-width="1.30" />
<circle cx="245.6" cy="139.9" r="1.1" fill="#111"/>
<text x="320.60" y="148.80" font-size="7.3" stroke="#222" stroke-width="0.3" textLength="17.7" lengthAdjust="spacingAndGlyphs" fill="#111" >Linen</text>
<text x="247.00" y="169.30" font-size="14" font-weight="bold" textLength="47.8" lengthAdjust="spacingAndGlyphs" fill="#111" >M Bath</text>
<line x1="340.70" y1="186.00" x2="321.40" y2="167.00" stroke="#1a1a1a" stroke-width="1.45" />
<path d="M321.4 167 Q328 160.5 339.9 159.5" fill="none" stroke="#1a1a1a" stroke-width="1.45" />
<line x1="295.40" y1="190.00" x2="339.90" y2="190.00" stroke="#1a1a1a" stroke-width="1.45" />
<line x1="310.00" y1="190.00" x2="318.20" y2="190.00" stroke="#1a1a1a" stroke-width="2.90" />
<line x1="318.20" y1="188.80" x2="339.90" y2="188.80" stroke="#3a3a3a" stroke-width="1.00" />
<ellipse cx="322.2" cy="205" rx="6.7" ry="5.6" fill="none" stroke="#1a1a1a" stroke-width="1.59"/>
<rect x="331.80" y="197.00" width="6.40" height="16.00" fill="none" stroke="#1a1a1a" stroke-width="1.59" rx="1.5"/>
<line x1="344.60" y1="137.50" x2="344.60" y2="151.80" stroke="#1a1a1a" stroke-width="1.59" />
<line x1="347.02" y1="137.50" x2="347.02" y2="151.80" stroke="#1a1a1a" stroke-width="1.59" />
<line x1="349.44" y1="137.50" x2="349.44" y2="151.80" stroke="#1a1a1a" stroke-width="1.59" />
<line x1="351.86" y1="137.50" x2="351.86" y2="151.80" stroke="#1a1a1a" stroke-width="1.59" />
<line x1="354.28" y1="137.50" x2="354.28" y2="151.80" stroke="#1a1a1a" stroke-width="1.59" />
<line x1="356.70" y1="137.50" x2="356.70" y2="151.80" stroke="#1a1a1a" stroke-width="1.59" />
<line x1="359.12" y1="137.50" x2="359.12" y2="151.80" stroke="#1a1a1a" stroke-width="1.59" />
<line x1="361.54" y1="137.50" x2="361.54" y2="151.80" stroke="#1a1a1a" stroke-width="1.59" />
<line x1="363.96" y1="137.50" x2="363.96" y2="151.80" stroke="#1a1a1a" stroke-width="1.59" />
<line x1="366.38" y1="137.50" x2="366.38" y2="151.80" stroke="#1a1a1a" stroke-width="1.59" />
<line x1="368.80" y1="137.50" x2="368.80" y2="151.80" stroke="#1a1a1a" stroke-width="1.59" />
<line x1="371.22" y1="137.50" x2="371.22" y2="151.80" stroke="#1a1a1a" stroke-width="1.59" />
<line x1="373.64" y1="137.50" x2="373.64" y2="151.80" stroke="#1a1a1a" stroke-width="1.59" />
<line x1="342.80" y1="153.20" x2="376.00" y2="153.20" stroke="#3a3a3a" stroke-width="1.00" />
<path d="M346.80 156.30 L355.10 165.10 L363.10 157.90" fill="none" stroke="#1a1a1a" stroke-width="1.45" />
<text x="411.30" y="200.80" font-size="14" font-weight="bold" textLength="29.9" lengthAdjust="spacingAndGlyphs" fill="#111" >Mbr.</text>
<text x="393.90" y="218.10" font-size="14" stroke="#222" stroke-width="0.3" textLength="69.9" lengthAdjust="spacingAndGlyphs" fill="#111" >15'9" X 14'</text>
<line x1="347.20" y1="238.60" x2="365.60" y2="219.80" stroke="#1a1a1a" stroke-width="1.45" />
<path d="M365.6 219.8 Q372 227 373.4 238.6" fill="none" stroke="#1a1a1a" stroke-width="1.45" />
<rect x="189.30" y="225.00" width="21.20" height="22.10" fill="none" stroke="#1a1a1a" stroke-width="1.45" />
<rect x="189.30" y="249.50" width="21.20" height="21.70" fill="none" stroke="#1a1a1a" stroke-width="1.45" />
<rect x="190.60" y="250.80" width="18.60" height="19.20" fill="none" stroke="#3a3a3a" stroke-width="1.00" />
<line x1="199.30" y1="223.00" x2="199.30" y2="273.00" stroke="#3a3a3a" stroke-width="0.88" />
<text x="201.30" y="241.50" font-size="13.5" font-weight="bold" text-anchor="middle" fill="#111" >D</text>
<text x="201.30" y="264.80" font-size="13.5" font-weight="bold" text-anchor="middle" textLength="15.0" lengthAdjust="spacingAndGlyphs" fill="#111" >W</text>
<rect x="188.00" y="276.00" width="15.30" height="19.40" fill="none" stroke="#1a1a1a" stroke-width="1.45" />
<text x="199.30" y="285.80" font-size="6.5" stroke="#222" stroke-width="0.3" text-anchor="middle" transform="rotate(-90 199.3 285.8)" fill="#111" >Pan</text>
<path d="M205.70 275.70 L214.50 279.60 L207.30 295.00 L204.50 295.00 L210.50 281.00 L205.70 278.60" fill="none" stroke="#1a1a1a" stroke-width="1.45" />
<line x1="209.70" y1="295.30" x2="235.40" y2="282.40" stroke="#1a1a1a" stroke-width="1.59" />
<path d="M235.4 282.4 Q238 289 238.6 296" fill="none" stroke="#1a1a1a" stroke-width="1.45" />
<text x="237.80" y="260.00" font-size="14.3" font-weight="bold" text-anchor="middle" textLength="40.0" lengthAdjust="spacingAndGlyphs" transform="rotate(-90 237.8 260)" fill="#111" >Utility</text>
<rect x="254.70" y="224.80" width="23.30" height="25.50" fill="none" stroke="#555" stroke-width="2.00" stroke-dasharray="3 2"/>
<text x="258.70" y="242.30" font-size="6.5" stroke="#222" stroke-width="0.3" textLength="13.6" lengthAdjust="spacingAndGlyphs" fill="#444" >Frez.</text>
<circle cx="268.3" cy="261.6" r="8" fill="none" stroke="#1a1a1a" stroke-width="1.1"/>
<text x="268.70" y="264.00" font-size="7" stroke="#222" stroke-width="0.3" text-anchor="middle" fill="#111" >wh</text>
<rect x="254.70" y="272.00" width="23.30" height="21.70" fill="none" stroke="#1a1a1a" stroke-width="1.45" />
<rect x="256.00" y="273.30" width="20.80" height="19.20" fill="none" stroke="#3a3a3a" stroke-width="1.00" />
<text x="266.70" y="284.90" font-size="8" stroke="#222" stroke-width="0.3" text-anchor="middle" textLength="14.5" lengthAdjust="spacingAndGlyphs" fill="#111" >Furn</text>
<rect x="286.90" y="224.60" width="15.20" height="6.40" fill="none" stroke="#1a1a1a" stroke-width="1.59" rx="2"/>
<ellipse cx="295.2" cy="240.7" rx="5.9" ry="7.2" fill="none" stroke="#1a1a1a" stroke-width="1.59"/>
<rect x="307.70" y="223.00" width="31.90" height="17.70" fill="none" stroke="#1a1a1a" stroke-width="1.45" />
<ellipse cx="323.5" cy="232.3" rx="7.7" ry="5.3" fill="none" stroke="#1a1a1a" stroke-width="1.59"/>
<rect x="318.20" y="221.60" width="10.40" height="1.60" fill="#fff" stroke="none" />
<line x1="340.70" y1="272.00" x2="321.40" y2="252.30" stroke="#1a1a1a" stroke-width="1.45" />
<path d="M321.4 252.3 Q327 245 340.7 242.8" fill="none" stroke="#1a1a1a" stroke-width="1.45" />
<rect x="282.60" y="280.00" width="34.00" height="15.40" fill="none" stroke="#1a1a1a" stroke-width="1.45" />
<text x="300.00" y="290.50" font-size="7.5" stroke="#222" stroke-width="0.3" text-anchor="middle" textLength="18.4" lengthAdjust="spacingAndGlyphs" fill="#111" >Linen</text>
<rect x="282.00" y="272.60" width="4.00" height="2.40" fill="#0a0a0a" stroke="none" />
<path d="M286.00 274.40 L295.70 265.10 L304.50 273.60" fill="none" stroke="#1a1a1a" stroke-width="1.45" />
<line x1="323.00" y1="279.80" x2="337.30" y2="279.80" stroke="#1a1a1a" stroke-width="2.03" />
<line x1="323.00" y1="282.35" x2="337.30" y2="282.35" stroke="#1a1a1a" stroke-width="2.03" />
<line x1="323.00" y1="284.90" x2="337.30" y2="284.90" stroke="#1a1a1a" stroke-width="2.03" />
<line x1="323.00" y1="287.45" x2="337.30" y2="287.45" stroke="#1a1a1a" stroke-width="2.03" />
<line x1="323.00" y1="290.00" x2="337.30" y2="290.00" stroke="#1a1a1a" stroke-width="2.03" />
<line x1="323.00" y1="292.55" x2="337.30" y2="292.55" stroke="#1a1a1a" stroke-width="2.03" />
<line x1="323.00" y1="295.10" x2="337.30" y2="295.10" stroke="#1a1a1a" stroke-width="2.03" />
<line x1="323.00" y1="297.65" x2="337.30" y2="297.65" stroke="#1a1a1a" stroke-width="2.03" />
<line x1="323.00" y1="300.20" x2="337.30" y2="300.20" stroke="#1a1a1a" stroke-width="2.03" />
<line x1="323.00" y1="302.75" x2="337.30" y2="302.75" stroke="#1a1a1a" stroke-width="2.03" />
<line x1="323.00" y1="305.30" x2="337.30" y2="305.30" stroke="#1a1a1a" stroke-width="2.03" />
<line x1="323.00" y1="307.85" x2="337.30" y2="307.85" stroke="#1a1a1a" stroke-width="2.03" />
<line x1="323.00" y1="310.40" x2="337.30" y2="310.40" stroke="#1a1a1a" stroke-width="2.03" />
<line x1="323.00" y1="312.95" x2="337.30" y2="312.95" stroke="#1a1a1a" stroke-width="2.03" />
<line x1="323.00" y1="315.50" x2="337.30" y2="315.50" stroke="#1a1a1a" stroke-width="2.03" />
<line x1="323.00" y1="318.05" x2="337.30" y2="318.05" stroke="#1a1a1a" stroke-width="2.03" />
<path d="M340.70 282.40 L352.70 293.70 L341.50 304.10" fill="none" stroke="#1a1a1a" stroke-width="1.45" />
<rect x="339.40" y="311.00" width="3.40" height="11.50" fill="#0a0a0a" stroke="none" />
<rect x="316.60" y="320.00" width="26.20" height="2.50" fill="#0a0a0a" stroke="none" />
<rect x="241.80" y="299.60" width="75.20" height="20.60" fill="none" stroke="#1a1a1a" stroke-width="1.45" />
<line x1="241.80" y1="310.60" x2="317.00" y2="310.60" stroke="#3a3a3a" stroke-width="1.25" stroke-dasharray="7 3"/>
<rect x="273.10" y="301.20" width="27.40" height="21.10" fill="#fff" stroke="#1a1a1a" stroke-width="1.45" />
<rect x="274.30" y="302.40" width="25.00" height="18.70" fill="none" stroke="#3a3a3a" stroke-width="1.00" />
<line x1="276.00" y1="310.60" x2="298.00" y2="310.60" stroke="#3a3a3a" stroke-width="1.25" stroke-dasharray="7 3"/>
<text x="286.50" y="319.50" font-size="7" stroke="#222" stroke-width="0.3" text-anchor="middle" fill="#111" >ref</text>
<text x="248.40" y="337.30" font-size="14" font-weight="bold" textLength="54.1" lengthAdjust="spacingAndGlyphs" fill="#111" >Kitchen</text>
<text x="249.30" y="354.40" font-size="14" stroke="#222" stroke-width="0.3" textLength="48.0" lengthAdjust="spacingAndGlyphs" fill="#111" >16' X 9'</text>
<line x1="208.60" y1="299.00" x2="208.60" y2="365.50" stroke="#1a1a1a" stroke-width="1.45" />
<line x1="208.60" y1="365.80" x2="344.60" y2="365.80" stroke="#1a1a1a" stroke-width="1.45" />
<line x1="344.60" y1="365.80" x2="344.60" y2="395.50" stroke="#1a1a1a" stroke-width="1.45" />
<path d="M199.6 301.2 V375.2 H345" fill="none" stroke="#3a3a3a" stroke-width="1.38" stroke-dasharray="9 3.6"/>
<line x1="188.50" y1="301.50" x2="208.00" y2="301.50" stroke="#3a3a3a" stroke-width="1.25" stroke-dasharray="4.5 2.6"/>
<line x1="188.50" y1="319.20" x2="208.00" y2="319.20" stroke="#3a3a3a" stroke-width="1.25" stroke-dasharray="4.5 2.6"/>
<text x="205.80" y="310.60" font-size="8" stroke="#222" stroke-width="0.3" text-anchor="middle" textLength="10.0" lengthAdjust="spacingAndGlyphs" transform="rotate(-90 205.8 310.6)" fill="#111" >dw</text>
<rect x="195.30" y="324.60" width="10.30" height="8.40" fill="#fff" stroke="#1a1a1a" stroke-width="1.89" rx="2"/>
<rect x="195.30" y="337.50" width="10.30" height="8.30" fill="#fff" stroke="#1a1a1a" stroke-width="1.89" rx="2"/>
<text x="221.40" y="361.50" font-size="7.4" stroke="#222" stroke-width="0.3" textLength="37.6" lengthAdjust="spacingAndGlyphs" fill="#111" >range/hood</text>
<rect x="228.70" y="365.50" width="26.00" height="20.00" fill="#fff" stroke="#1a1a1a" stroke-width="1.45" />
<path d="M231.6 374 V370.8 A2.6 2.6 0 0 1 236.8 370.8 V374" fill="none" stroke="#1a1a1a" stroke-width="1.59" />
<path d="M244.6 374 V370.8 A2.6 2.6 0 0 1 249.8 370.8 V374" fill="none" stroke="#1a1a1a" stroke-width="1.59" />
<line x1="232.00" y1="372.80" x2="236.40" y2="372.80" stroke="#1a1a1a" stroke-width="1.16" />
<line x1="245.00" y1="372.80" x2="249.40" y2="372.80" stroke="#1a1a1a" stroke-width="1.16" />
<line x1="187.60" y1="385.50" x2="345.00" y2="385.50" stroke="#1a1a1a" stroke-width="1.45" />
<line x1="190.00" y1="389.30" x2="345.00" y2="389.30" stroke="#3a3a3a" stroke-width="1.62" stroke-dasharray="3 3"/>
<line x1="187.60" y1="396.20" x2="345.00" y2="396.20" stroke="#1a1a1a" stroke-width="1.45" />
<text x="227.30" y="406.30" font-size="9.4" stroke="#222" stroke-width="0.3" textLength="80.0" lengthAdjust="spacingAndGlyphs" fill="#111" >42" high eating bar</text>
<path d="M219.8 405.5 Q213 400 211 392.5" fill="none" stroke="#1a1a1a" stroke-width="1.45" />
<path d="M209.60 396.00 L211.00 392.00 L214.00 395.00" fill="none" stroke="#1a1a1a" stroke-width="1.45" />
<line x1="191.80" y1="413.50" x2="337.50" y2="413.50" stroke="#3a3a3a" stroke-width="1.62" stroke-dasharray="6.8 3.4"/>
<text x="233.10" y="455.80" font-size="14" font-weight="bold" textLength="77.3" lengthAdjust="spacingAndGlyphs" fill="#111" >Dining Rm.</text>
<text x="241.80" y="472.70" font-size="14" stroke="#222" stroke-width="0.3" textLength="55.5" lengthAdjust="spacingAndGlyphs" fill="#111" >16' X 13'</text>
<text x="333.70" y="470.40" font-size="9.3" stroke="#222" stroke-width="0.3" textLength="62.2" lengthAdjust="spacingAndGlyphs" fill="#111" >Open to above</text>
<text x="388.10" y="423.40" font-size="14" font-weight="bold" textLength="78.6" lengthAdjust="spacingAndGlyphs" fill="#111" >Family Rm.</text>
<text x="397.10" y="440.10" font-size="14" stroke="#222" stroke-width="0.3" textLength="55.4" lengthAdjust="spacingAndGlyphs" fill="#111" >16' X 19'</text>
<text x="423.50" y="463.40" font-size="9" stroke="#222" stroke-width="0.3" textLength="50.6" lengthAdjust="spacingAndGlyphs" fill="#111" >Brick hearth</text>
<text x="436.70" y="484.20" font-size="9" stroke="#222" stroke-width="0.3" textLength="38.9" lengthAdjust="spacingAndGlyphs" fill="#111" >Fireplace</text>
<rect x="479.30" y="442.90" width="18.10" height="45.90" fill="#fff" stroke="#1a1a1a" stroke-width="1.45" />
<rect x="497.40" y="441.40" width="25.60" height="48.90" fill="#0a0a0a" stroke="none" />
<rect x="498.60" y="445.90" width="19.80" height="39.90" fill="#fff" stroke="none" />
<path d="M498.90 447.90 L516.90 452.70 L516.90 478.30 L498.40 484.30" fill="none" stroke="#1a1a1a" stroke-width="1.45" />
<path d="M504.50 449.40 L514.70 452.70 L514.70 478.00" fill="none" stroke="#3a3a3a" stroke-width="1.00" />
<path d="M477.8 460.2 Q483 460.5 487.6 464.4" fill="none" stroke="#1a1a1a" stroke-width="1.30" />
<path d="M484.30 462.70 L488.00 464.80 L484.00 465.30 Z" fill="#111" stroke="#1a1a1a" stroke-width="1.30" />
<line x1="477.00" y1="482.00" x2="502.60" y2="472.30" stroke="#1a1a1a" stroke-width="1.30" />
<path d="M498.50 471.20 L503.00 472.20 L500.00 475.80 Z" fill="#111" stroke="#1a1a1a" stroke-width="1.30" />
<rect x="340.10" y="408.40" width="3.50" height="4.50" fill="#0a0a0a" stroke="none" />
<line x1="382.60" y1="276.80" x2="382.60" y2="292.80" stroke="#1a1a1a" stroke-width="0.90" />
<line x1="384.75" y1="276.80" x2="384.75" y2="292.80" stroke="#1a1a1a" stroke-width="0.90" />
<line x1="386.90" y1="276.80" x2="386.90" y2="292.80" stroke="#1a1a1a" stroke-width="0.90" />
<line x1="389.05" y1="276.80" x2="389.05" y2="292.80" stroke="#1a1a1a" stroke-width="0.90" />
<line x1="391.20" y1="276.80" x2="391.20" y2="292.80" stroke="#1a1a1a" stroke-width="0.90" />
<line x1="393.35" y1="276.80" x2="393.35" y2="292.80" stroke="#1a1a1a" stroke-width="0.90" />
<line x1="395.50" y1="276.80" x2="395.50" y2="292.80" stroke="#1a1a1a" stroke-width="0.90" />
<line x1="397.65" y1="276.80" x2="397.65" y2="292.80" stroke="#1a1a1a" stroke-width="0.90" />
<line x1="399.80" y1="276.80" x2="399.80" y2="292.80" stroke="#1a1a1a" stroke-width="0.90" />
<line x1="401.95" y1="276.80" x2="401.95" y2="292.80" stroke="#1a1a1a" stroke-width="0.90" />
<line x1="404.10" y1="276.80" x2="404.10" y2="292.80" stroke="#1a1a1a" stroke-width="0.90" />
<line x1="406.25" y1="276.80" x2="406.25" y2="292.80" stroke="#1a1a1a" stroke-width="0.90" />
<line x1="408.40" y1="276.80" x2="408.40" y2="292.80" stroke="#1a1a1a" stroke-width="0.90" />
<line x1="410.55" y1="276.80" x2="410.55" y2="292.80" stroke="#1a1a1a" stroke-width="0.90" />
<line x1="412.70" y1="276.80" x2="412.70" y2="292.80" stroke="#1a1a1a" stroke-width="0.90" />
<line x1="414.85" y1="276.80" x2="414.85" y2="292.80" stroke="#1a1a1a" stroke-width="0.90" />
<line x1="417.00" y1="276.80" x2="417.00" y2="292.80" stroke="#1a1a1a" stroke-width="0.90" />
<line x1="419.15" y1="276.80" x2="419.15" y2="292.80" stroke="#1a1a1a" stroke-width="0.90" />
<line x1="421.30" y1="276.80" x2="421.30" y2="292.80" stroke="#1a1a1a" stroke-width="0.90" />
<line x1="423.45" y1="276.80" x2="423.45" y2="292.80" stroke="#1a1a1a" stroke-width="0.90" />
<line x1="425.60" y1="276.80" x2="425.60" y2="292.80" stroke="#1a1a1a" stroke-width="0.90" />
<line x1="427.75" y1="276.80" x2="427.75" y2="292.80" stroke="#1a1a1a" stroke-width="0.90" />
<line x1="429.90" y1="276.80" x2="429.90" y2="292.80" stroke="#1a1a1a" stroke-width="0.90" />
<line x1="432.05" y1="276.80" x2="432.05" y2="292.80" stroke="#1a1a1a" stroke-width="0.90" />
<line x1="434.20" y1="276.80" x2="434.20" y2="292.80" stroke="#1a1a1a" stroke-width="0.90" />
<line x1="441.00" y1="276.80" x2="441.00" y2="292.80" stroke="#1a1a1a" stroke-width="0.90" />
<line x1="443.15" y1="276.80" x2="443.15" y2="292.80" stroke="#1a1a1a" stroke-width="0.90" />
<line x1="445.30" y1="276.80" x2="445.30" y2="292.80" stroke="#1a1a1a" stroke-width="0.90" />
<line x1="447.45" y1="276.80" x2="447.45" y2="292.80" stroke="#1a1a1a" stroke-width="0.90" />
<line x1="449.60" y1="276.80" x2="449.60" y2="292.80" stroke="#1a1a1a" stroke-width="0.90" />
<line x1="451.75" y1="276.80" x2="451.75" y2="292.80" stroke="#1a1a1a" stroke-width="0.90" />
<line x1="453.90" y1="276.80" x2="453.90" y2="292.80" stroke="#1a1a1a" stroke-width="0.90" />
<line x1="456.05" y1="276.80" x2="456.05" y2="292.80" stroke="#1a1a1a" stroke-width="0.90" />
<line x1="458.20" y1="276.80" x2="458.20" y2="292.80" stroke="#1a1a1a" stroke-width="0.90" />
<line x1="460.35" y1="276.80" x2="460.35" y2="292.80" stroke="#1a1a1a" stroke-width="0.90" />
<line x1="462.50" y1="276.80" x2="462.50" y2="292.80" stroke="#1a1a1a" stroke-width="0.90" />
<line x1="464.65" y1="276.80" x2="464.65" y2="292.80" stroke="#1a1a1a" stroke-width="0.90" />
<line x1="466.80" y1="276.80" x2="466.80" y2="292.80" stroke="#1a1a1a" stroke-width="0.90" />
<line x1="468.95" y1="276.80" x2="468.95" y2="292.80" stroke="#1a1a1a" stroke-width="0.90" />
<line x1="471.10" y1="276.80" x2="471.10" y2="292.80" stroke="#1a1a1a" stroke-width="0.90" />
<line x1="473.25" y1="276.80" x2="473.25" y2="292.80" stroke="#1a1a1a" stroke-width="0.90" />
<line x1="475.40" y1="276.80" x2="475.40" y2="292.80" stroke="#1a1a1a" stroke-width="0.90" />
<line x1="477.55" y1="276.80" x2="477.55" y2="292.80" stroke="#1a1a1a" stroke-width="0.90" />
<line x1="479.70" y1="276.80" x2="479.70" y2="292.80" stroke="#1a1a1a" stroke-width="0.90" />
<line x1="481.85" y1="276.80" x2="481.85" y2="292.80" stroke="#1a1a1a" stroke-width="0.90" />
<line x1="484.00" y1="276.80" x2="484.00" y2="292.80" stroke="#1a1a1a" stroke-width="0.90" />
<line x1="486.15" y1="276.80" x2="486.15" y2="292.80" stroke="#1a1a1a" stroke-width="0.90" />
<line x1="488.30" y1="276.80" x2="488.30" y2="292.80" stroke="#1a1a1a" stroke-width="0.90" />
<line x1="490.45" y1="276.80" x2="490.45" y2="292.80" stroke="#1a1a1a" stroke-width="0.90" />
<line x1="492.60" y1="276.80" x2="492.60" y2="292.80" stroke="#1a1a1a" stroke-width="0.90" />
<line x1="494.75" y1="276.80" x2="494.75" y2="292.80" stroke="#1a1a1a" stroke-width="0.90" />
<path d="M382.30 272.40 L392.50 263.20 L402.70 272.40" fill="none" stroke="#1a1a1a" stroke-width="1.45" />
<path d="M411.90 272.40 L422.10 263.20 L432.30 272.40" fill="none" stroke="#1a1a1a" stroke-width="1.45" />
<path d="M441.50 272.40 L451.70 263.20 L461.90 272.40" fill="none" stroke="#1a1a1a" stroke-width="1.45" />
<path d="M473.20 272.40 L483.40 263.20 L493.60 272.40" fill="none" stroke="#1a1a1a" stroke-width="1.45" />
<line x1="380.20" y1="298.90" x2="380.20" y2="331.60" stroke="#1a1a1a" stroke-width="1.45" />
<line x1="388.40" y1="298.90" x2="388.40" y2="331.60" stroke="#1a1a1a" stroke-width="1.45" />
<line x1="396.60" y1="298.90" x2="396.60" y2="331.60" stroke="#1a1a1a" stroke-width="1.45" />
<line x1="405.20" y1="298.90" x2="405.20" y2="331.60" stroke="#1a1a1a" stroke-width="1.45" />
<line x1="413.30" y1="298.90" x2="413.30" y2="331.60" stroke="#1a1a1a" stroke-width="1.45" />
<line x1="421.50" y1="298.90" x2="421.50" y2="331.60" stroke="#1a1a1a" stroke-width="1.45" />
<line x1="432.30" y1="298.90" x2="432.30" y2="333.70" stroke="#1a1a1a" stroke-width="1.45" />
<line x1="440.50" y1="298.90" x2="440.50" y2="333.70" stroke="#1a1a1a" stroke-width="1.45" />
<line x1="448.70" y1="298.90" x2="448.70" y2="333.70" stroke="#1a1a1a" stroke-width="1.45" />
<line x1="456.90" y1="298.90" x2="456.90" y2="333.70" stroke="#1a1a1a" stroke-width="1.45" />
<line x1="465.00" y1="298.90" x2="465.00" y2="333.70" stroke="#1a1a1a" stroke-width="1.45" />
<rect x="377.20" y="329.60" width="52.10" height="3.10" fill="#0a0a0a" stroke="none" />
<line x1="429.30" y1="334.00" x2="462.00" y2="334.00" stroke="#555" stroke-width="1.88" />
<path d="M418.00 298.90 L424.20 316.00 L423.00 317.50 L431.30 336.80" fill="none" stroke="#1a1a1a" stroke-width="1.45" />
<line x1="369.90" y1="315.60" x2="412.60" y2="315.60" stroke="#1a1a1a" stroke-width="1.45" />
<path d="M407.20 309.70 L412.80 315.60 L407.20 321.40" fill="none" stroke="#1a1a1a" stroke-width="1.45" />
<line x1="482.00" y1="315.30" x2="436.40" y2="315.30" stroke="#1a1a1a" stroke-width="1.45" />
<path d="M442.60 309.20 L436.40 315.30 L442.60 321.40" fill="none" stroke="#1a1a1a" stroke-width="1.45" />
<line x1="482.00" y1="315.30" x2="482.00" y2="357.20" stroke="#1a1a1a" stroke-width="1.45" />
<text x="475.40" y="366.80" font-size="9.2" stroke="#222" stroke-width="0.3" textLength="9.9" lengthAdjust="spacingAndGlyphs" fill="#111" >up</text>
<text x="366.00" y="323.40" font-size="10.3" stroke="#222" stroke-width="0.3" textLength="9.9" lengthAdjust="spacingAndGlyphs" fill="#111" >dn</text>
<path d="M378.4 301.5 L356.8 319.9 Q366 327.5 378.4 329.8" fill="none" stroke="#1a1a1a" stroke-width="1.45" />
<rect x="461.70" y="330.00" width="3.50" height="17.90" fill="#fff" stroke="#1a1a1a" stroke-width="1.45" />
<line x1="461.70" y1="333.00" x2="465.20" y2="333.00" stroke="#1a1a1a" stroke-width="1.16" />
<line x1="461.70" y1="344.80" x2="465.20" y2="344.80" stroke="#1a1a1a" stroke-width="1.16" />
<line x1="465.20" y1="339.30" x2="495.90" y2="339.30" stroke="#1a1a1a" stroke-width="1.45" />
<line x1="465.20" y1="347.00" x2="495.90" y2="347.00" stroke="#1a1a1a" stroke-width="1.45" />
<path d="M356.9 259.1 H499.3 A8 8 0 0 1 507.3 267.1 V347.5 A8 8 0 0 1 499.3 355.5 H356.9 A8 8 0 0 1 348.9 347.5 V267.1 A8 8 0 0 1 356.9 259.1 Z" fill="none" stroke="#3a3a3a" stroke-width="1.44" stroke-dasharray="9 2.5 2 2.5"/>
<path d="M377.3 333.6 H345.4 V409.5" fill="none" stroke="#3a3a3a" stroke-width="1.50" stroke-dasharray="6 3.2"/>
<text x="355.50" y="378.70" font-size="7.2" stroke="#222" stroke-width="0.3" textLength="113.2" lengthAdjust="spacingAndGlyphs" fill="#111" >Cabinets Suspended From Ceiling</text>
<line x1="352.80" y1="377.10" x2="340.50" y2="379.20" stroke="#1a1a1a" stroke-width="1.30" />
<path d="M342.50 377.00 L339.30 379.60 L342.80 381.00" fill="none" stroke="#1a1a1a" stroke-width="1.30" />
</svg>
</body></html>
